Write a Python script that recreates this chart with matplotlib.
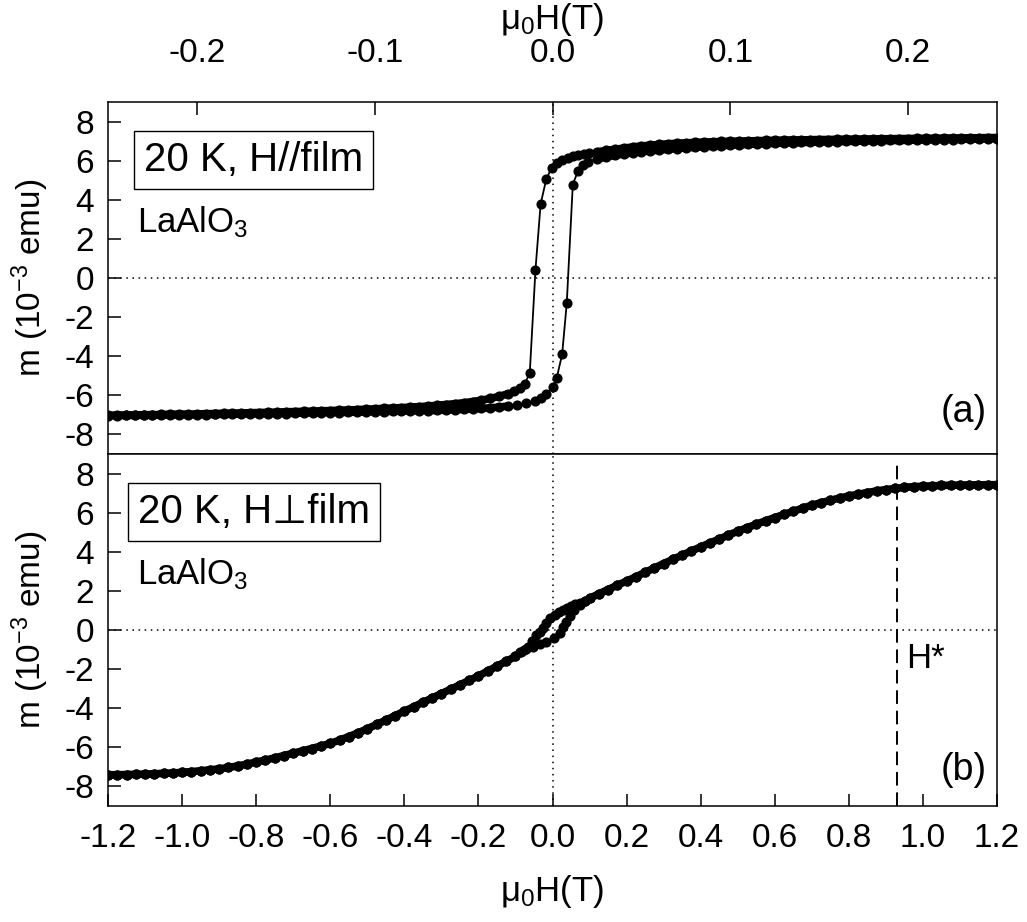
import matplotlib
matplotlib.use('Agg')
import matplotlib.pyplot as plt
from matplotlib.ticker import FormatStrFormatter

# ---------------- data ----------------
# panel (a): H // film, field in T, m in 1e-3 emu
a_x_neg = [-0.250, -0.245, -0.240, -0.235, -0.230, -0.225, -0.220, -0.215, -0.210, -0.205,
           -0.200, -0.195, -0.190, -0.185, -0.180, -0.175, -0.170, -0.165, -0.160, -0.155,
           -0.150, -0.145, -0.140, -0.135, -0.130, -0.125, -0.120, -0.115, -0.110, -0.105,
           -0.100, -0.095, -0.090, -0.085, -0.080, -0.075, -0.070, -0.065, -0.060, -0.055,
           -0.050, -0.045, -0.040, -0.035, -0.030, -0.025]
a_x_pos = [0.025, 0.030, 0.035, 0.040, 0.045, 0.050, 0.055, 0.060, 0.065, 0.070,
           0.075, 0.080, 0.085, 0.090, 0.095, 0.100, 0.105, 0.110, 0.115, 0.120,
           0.125, 0.130, 0.135, 0.140, 0.145, 0.150, 0.155, 0.160, 0.165, 0.170,
           0.175, 0.180, 0.185, 0.190, 0.195, 0.200, 0.205, 0.210, 0.215, 0.220,
           0.225, 0.230, 0.235, 0.240, 0.245, 0.250]

# descending branch (field swept + -> -)
a_dn_neg = [-7.02, -7.01, -7.01, -7.00, -6.99, -6.99, -6.98, -6.97, -6.96, -6.96,
            -6.95, -6.94, -6.93, -6.92, -6.91, -6.90, -6.89, -6.88, -6.87, -6.86,
            -6.84, -6.83, -6.82, -6.81, -6.79, -6.78, -6.76, -6.75, -6.73, -6.71,
            -6.69, -6.67, -6.65, -6.63, -6.60, -6.58, -6.55, -6.51, -6.47, -6.43,
            -6.38, -6.32, -6.25, -6.16, -6.05, -5.92]
a_dn_sw_x = [-0.0215, -0.0185, -0.0156, -0.0128, -0.0096, -0.0067, -0.0035, -0.0005,
             0.0025, 0.0055, 0.0085, 0.0115, 0.0145, 0.0175, 0.0205]
a_dn_sw_m = [-5.80, -5.65, -5.40, -4.86, 0.41, 3.78, 5.06, 5.63,
             5.90, 6.05, 6.15, 6.22, 6.28, 6.34, 6.39]
a_dn_pos = [6.45, 6.52, 6.58, 6.64, 6.70, 6.75, 6.79, 6.83, 6.86, 6.89,
            6.91, 6.93, 6.95, 6.96, 6.98, 6.99, 7.00, 7.01, 7.02, 7.03,
            7.04, 7.05, 7.06, 7.06, 7.07, 7.08, 7.08, 7.09, 7.10, 7.10,
            7.11, 7.11, 7.12, 7.12, 7.13, 7.13, 7.14, 7.14, 7.15, 7.15,
            7.16, 7.16, 7.17, 7.17, 7.18, 7.18]

# ascending branch (field swept - -> +)
a_up_neg = [-7.04, -7.04, -7.03, -7.03, -7.02, -7.02, -7.01, -7.01, -7.00, -7.00,
            -6.99, -6.99, -6.98, -6.97, -6.97, -6.96, -6.95, -6.95, -6.94, -6.93,
            -6.93, -6.92, -6.91, -6.90, -6.89, -6.88, -6.88, -6.87, -6.86, -6.85,
            -6.84, -6.83, -6.82, -6.81, -6.80, -6.79, -6.78, -6.77, -6.76, -6.74,
            -6.72, -6.70, -6.67, -6.64, -6.60, -6.55]
a_up_sw_x = [-0.020, -0.015, -0.010, -0.0065, -0.0035, 0.0, 0.0024, 0.0054,
             0.0080, 0.0114, 0.0142, 0.0170, 0.0200]
a_up_sw_m = [-6.49, -6.41, -6.30, -6.15, -5.92, -5.57, -5.09, -3.91,
             -1.30, 4.77, 5.45, 5.80, 5.95]
a_up_pos = [6.08, 6.18, 6.27, 6.34, 6.40, 6.45, 6.50, 6.54, 6.58, 6.62,
            6.65, 6.68, 6.71, 6.74, 6.76, 6.79, 6.81, 6.83, 6.85, 6.87,
            6.88, 6.90, 6.91, 6.93, 6.94, 6.95, 6.96, 6.97, 6.98, 6.99,
            7.00, 7.01, 7.02, 7.03, 7.03, 7.04, 7.05, 7.06, 7.07, 7.07,
            7.08, 7.09, 7.10, 7.10, 7.11, 7.12]

# panel (b): H perpendicular to film
b_x_neg = [-1.200, -1.175, -1.150, -1.125, -1.100, -1.075, -1.050, -1.025, -1.000,
           -0.975, -0.950, -0.925, -0.900, -0.875, -0.850, -0.825, -0.800,
           -0.775, -0.750, -0.725, -0.700, -0.675, -0.650, -0.625, -0.600,
           -0.575, -0.550, -0.525, -0.500, -0.475, -0.450, -0.425, -0.400,
           -0.375, -0.350, -0.325, -0.300, -0.275, -0.250, -0.225, -0.200,
           -0.175, -0.150, -0.125, -0.100]
b_m_neg = [-7.40, -7.40, -7.39, -7.38, -7.37, -7.35, -7.33, -7.31, -7.28,
           -7.24, -7.20, -7.15, -7.10, -7.03, -6.95, -6.86, -6.75,
           -6.65, -6.54, -6.42, -6.30, -6.18, -6.06, -5.93, -5.80,
           -5.63, -5.45, -5.26, -5.05, -4.83, -4.61, -4.38, -4.15,
           -3.93, -3.70, -3.48, -3.25, -3.03, -2.80, -2.58, -2.35,
           -2.10, -1.85, -1.60, -1.35]
b_x_pos = [0.100, 0.125, 0.150, 0.175, 0.200, 0.225, 0.250, 0.275, 0.300,
           0.325, 0.350, 0.375, 0.400, 0.425, 0.450, 0.475, 0.500,
           0.525, 0.550, 0.575, 0.600, 0.625, 0.650, 0.675, 0.700,
           0.725, 0.750, 0.775, 0.800, 0.825, 0.850, 0.875, 0.900,
           0.925, 0.950, 0.975, 1.000, 1.025, 1.050, 1.075, 1.100,
           1.125, 1.150, 1.175, 1.200]
b_m_pos = [1.62, 1.85, 2.07, 2.29, 2.50, 2.72, 2.95, 3.17, 3.40,
           3.61, 3.83, 4.04, 4.25, 4.45, 4.65, 4.85, 5.05,
           5.23, 5.41, 5.58, 5.75, 5.91, 6.07, 6.23, 6.38,
           6.51, 6.63, 6.75, 6.85, 6.94, 7.03, 7.11, 7.18,
           7.24, 7.29, 7.33, 7.35, 7.37, 7.39, 7.40, 7.41,
           7.42, 7.42, 7.43, 7.43]
b_dn_x = [-0.085, -0.076, -0.067, -0.056, -0.045, -0.035, -0.026, -0.017, -0.006,
          0.006, 0.017, 0.028, 0.039, 0.050, 0.062, 0.073, 0.087]
b_dn_m = [-1.15, -1.02, -0.85, -0.55, -0.26, -0.08, 0.09, 0.38, 0.60,
          0.78, 0.92, 1.03, 1.14, 1.25, 1.33, 1.40, 1.50]
b_up_x = [-0.089, -0.071, -0.053, -0.035, -0.017, 0.005, 0.019, 0.028, 0.037,
          0.048, 0.059, 0.073, 0.087]
b_up_m = [-1.11, -0.98, -0.85, -0.74, -0.63, -0.43, -0.17, 0.14, 0.43,
          0.73, 1.03, 1.28, 1.48]

h_star = 0.93

top_ticks = [-0.2, -0.1, 0.0, 0.1, 0.2]
bot_ticks = [-1.2, -1.0, -0.8, -0.6, -0.4, -0.2, 0.0, 0.2, 0.4, 0.6, 0.8, 1.0, 1.2]
m_ticks = [-8, -6, -4, -2, 0, 2, 4, 6, 8]

# ---------------- style ----------------
plt.rcParams['font.family'] = ['Liberation Sans', 'DejaVu Sans']
plt.rcParams['mathtext.fontset'] = 'custom'
plt.rcParams['mathtext.rm'] = 'Liberation Sans'
plt.rcParams['mathtext.it'] = 'Liberation Sans:italic'
plt.rcParams['axes.unicode_minus'] = False
plt.rcParams['axes.linewidth'] = 1.1

fig = plt.figure(figsize=(10.27, 9.22), dpi=100)
ax1 = fig.add_axes([0.1052, 0.5076, 0.8656, 0.3818])
ax2 = fig.add_axes([0.1052, 0.1258, 0.8656, 0.3818])

mk = dict(color='black', marker='o', markersize=6.3, linewidth=1.3)
band = dict(color='black', linewidth=5.5, solid_capstyle='round')

# panel (a): dense sweep points overlap into a solid band
for xs, ms in ((a_x_neg, a_dn_neg), (a_x_neg, a_up_neg), (a_x_pos, a_dn_pos), (a_x_pos, a_up_pos)):
    ax1.plot(xs, ms, **band)
ax1.plot(a_x_neg + a_dn_sw_x + a_x_pos, a_dn_neg + a_dn_sw_m + a_dn_pos, **mk)
ax1.plot(a_x_neg + a_up_sw_x + a_x_pos, a_up_neg + a_up_sw_m + a_up_pos, **mk)

# panel (b)
for xs, ms in ((b_x_neg, b_m_neg), (b_x_pos, b_m_pos)):
    ax2.plot(xs, ms, **band)
ax2.plot(b_x_neg + b_dn_x + b_x_pos, b_m_neg + b_dn_m + b_m_pos, **mk)
ax2.plot(b_x_neg + b_up_x + b_x_pos, b_m_neg + b_up_m + b_m_pos, **mk)
ax2.axvline(h_star, ymin=0, ymax=0.985, color='black', lw=1.4, ls=(0, (7, 3.5)))

for ax in (ax1, ax2):
    ax.axhline(0, color='black', lw=1.1, ls=(0, (1, 3)), zorder=0)
    ax.axvline(0, color='black', lw=1.1, ls=(0, (1, 3)), zorder=0)
    ax.set_ylim(-9, 9)
    ax.set_yticks(m_ticks)
    ax.yaxis.set_major_formatter(FormatStrFormatter('%d'))
    ax.set_ylabel(r'm (10$^{-3}$ emu)', fontsize=24)
    ax.yaxis.set_label_coords(-0.064, 0.5)
    ax.tick_params(axis='y', direction='in', length=9, width=1.1, labelsize=24, pad=10,
                   left=True, right=False)

ax1.set_xlim(-0.25, 0.25)
ax1.set_xticks(top_ticks)
ax1.xaxis.set_major_formatter(FormatStrFormatter('%.1f'))
ax1.xaxis.tick_top()
ax1.xaxis.set_label_position('top')
ax1.tick_params(axis='x', direction='in', length=9, width=1.1, labelsize=24, pad=24,
                top=True, bottom=False)
ax1.set_xlabel(r'μ$_0$H(T)', fontsize=25, labelpad=6)

ax2.set_xlim(-1.2, 1.2)
ax2.set_xticks(bot_ticks)
ax2.xaxis.set_major_formatter(FormatStrFormatter('%.1f'))
ax2.tick_params(axis='x', direction='in', length=9, width=1.1, labelsize=24, pad=12,
                top=False, bottom=True)
ax2.set_xlabel(r'μ$_0$H(T)', fontsize=25, labelpad=14)

box = dict(boxstyle='square,pad=0.25', facecolor='white', edgecolor='black', lw=1.0)
ax1.text(0.164, 0.835, '20 K, H//film', transform=ax1.transAxes, fontsize=29,
         ha='center', va='center', bbox=box)
ax2.text(0.164, 0.835, '20 K, H\u22a5film', transform=ax2.transAxes, fontsize=29,
         ha='center', va='center', bbox=box)
for ax in (ax1, ax2):
    ax.text(0.033, 0.631, r'LaAlO$_3$', transform=ax.transAxes, fontsize=25,
            ha='left', va='baseline')
ax1.text(0.988, 0.119, '(a)', transform=ax1.transAxes, fontsize=27, ha='right', va='center')
ax2.text(0.988, 0.102, '(b)', transform=ax2.transAxes, fontsize=27, ha='right', va='center')
ax2.text(h_star + 0.025, -1.44, 'H*', fontsize=25, ha='left', va='center')

fig.savefig('out.png', dpi=100)
